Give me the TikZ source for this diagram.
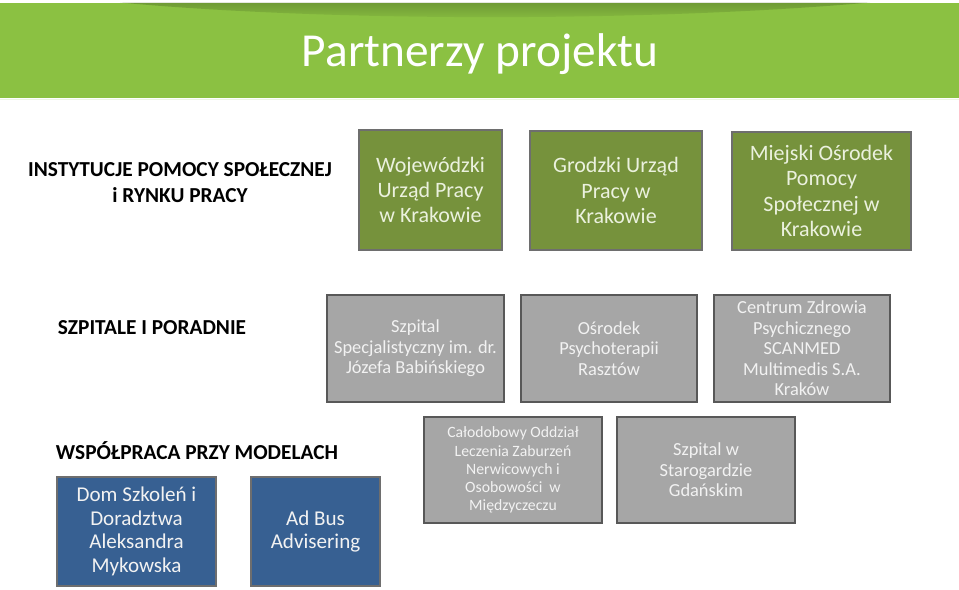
\documentclass[tikz,border=0pt]{standalone}
\usepackage{fontspec}
\setmainfont{Carlito}
\definecolor{bandgreen}{RGB}{139,193,66}
\definecolor{boxgreen}{RGB}{118,146,60}
\definecolor{boxgray}{RGB}{166,166,166}
\definecolor{boxblue}{RGB}{55,96,146}
\definecolor{edgegray}{RGB}{110,110,110}
\definecolor{txtcream}{RGB}{235,241,222}
\tikzset{
  greenbox/.style={draw=edgegray,line width=2.2pt,fill=boxgreen,text=txtcream,align=center,
    font=\fontsize{16.5}{19}\selectfont,inner sep=0pt},
  graybox/.style={draw=edgegray!80!black,line width=2.2pt,fill=boxgray,text=white!95!black,align=center,
    font=\fontsize{13.8}{15.4}\selectfont,inner sep=0pt},
  smallgray/.style={graybox,font=\fontsize{11.8}{13.6}\selectfont},
  bluebox/.style={draw=edgegray,line width=2.2pt,fill=boxblue,text=white!95!black,align=center,
    font=\fontsize{15.8}{17.6}\selectfont,inner sep=0pt},
  rowlabel/.style={align=center,font=\bfseries\fontsize{16}{19.5}\selectfont},
}
\begin{document}
\begin{tikzpicture}[x=0.75pt,y=-0.75pt]
\useasboundingbox (0,0) rectangle (959,589);
% header band
\fill[bandgreen] (0,2.5) rectangle (959,98);
\shade[top color=bandgreen!50!black,bottom color=bandgreen,opacity=0.4]
  (120,2.5) .. controls (330,22) and (650,22) .. (870,2.5) -- cycle;
\draw[white!85!bandgreen,line width=1pt] (0,99.5) -- (959,99.5);
\node[text=white,font=\fontsize{35.5}{40}\selectfont] (title) at (480,54) {Partnerzy projektu};
% row 1: social help institutions
\node[rowlabel] (lab1) at (180,183) {INSTYTUCJE POMOCY SPOŁECZNEJ\\i RYNKU PRACY};
\node[greenbox,minimum width=107.25pt,minimum height=90pt] (wup) at (430.5,190) {Wojewódzki\\Urząd Pracy\\w Krakowie};
\node[greenbox,minimum width=129pt,minimum height=89.25pt] (gup) at (616,190.5) {Grodzki Urząd\\Pracy w\\Krakowie};
\node[greenbox,minimum width=134.25pt,minimum height=88.5pt] (mops) at (821.5,191) {Miejski Ośrodek\\Pomocy\\Społecznej w\\Krakowie};
% row 2: hospitals
\node[rowlabel] (lab2) at (152,328) {SZPITALE I PORADNIE};
\node[graybox,minimum width=132.75pt,minimum height=80.25pt] (babinski) at (415.5,348.5) {Szpital\\Specjalistyczny im. dr.\\Józefa Babińskiego};
\node[graybox,minimum width=132pt,minimum height=80.25pt] (rasztow) at (609,348.5) {Ośrodek\\Psychoterapii\\Rasztów};
\node[graybox,minimum width=132pt,minimum height=80.25pt] (scanmed) at (802,348.5) {Centrum Zdrowia\\Psychicznego\\SCANMED\\Multimedis S.A.\\Kraków};
% row 3: models
\node[rowlabel,font=\bfseries\fontsize{16}{18}\selectfont] (lab3) at (197,451) {WSPÓŁPRACA PRZY MODELACH};
\node[bluebox,minimum width=119.25pt,minimum height=81.75pt] (mykowska) at (136.5,531.5) {Dom Szkoleń i\\Doradztwa\\Aleksandra\\Mykowska};
\node[bluebox,minimum width=96.75pt,minimum height=81.75pt] (adbus) at (315.5,531.5) {Ad Bus\\Advisering};
\node[smallgray,minimum width=133.5pt,minimum height=79.5pt] (miedzy) at (513,470) {Całodobowy Oddział\\Leczenia Zaburzeń\\Nerwicowych i\\Osobowości \ w\\Międzyczeczu};
\node[graybox,minimum width=133.5pt,minimum height=79.5pt] (starogard) at (706,470) {Szpital w\\Starogardzie\\Gdańskim};
\end{tikzpicture}
\end{document}
